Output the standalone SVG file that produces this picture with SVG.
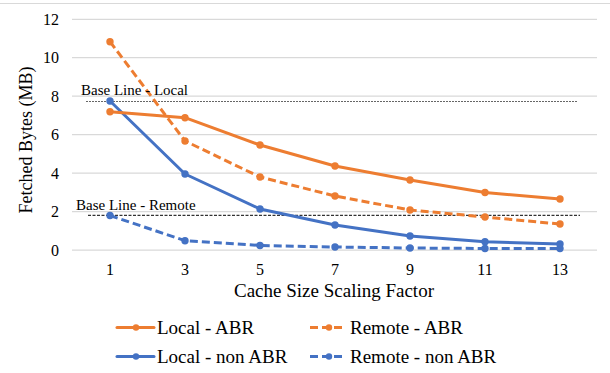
<svg xmlns="http://www.w3.org/2000/svg" width="610" height="373" viewBox="0 0 610 373">
<style>
text{font-family:"Liberation Serif","Times New Roman",serif;fill:#000}
.tick{font-size:16px}
.ytick{text-anchor:end}
.xtick{text-anchor:middle}
.title{font-size:19px}
.ytitle{font-size:18px}
.leg{font-size:19px}
.bl{font-size:15px}
.grid{stroke:#d9d9d9;stroke-width:1.2}
.s{fill:none;stroke-width:3;stroke-linejoin:round;stroke-linecap:round}
.or{stroke:#ed7d31}
.bu{stroke:#4472c4}
.dash{stroke-dasharray:8 4;stroke-linecap:butt}
.mo{fill:#ed7d31}
.mb{fill:#4472c4}
</style>
<rect width="610" height="373" fill="#fff"/>
<line x1="0" y1="3.5" x2="610" y2="3.5" stroke="#d9d9d9" stroke-width="1.2"/>
<g id="gridlines">
<line class="grid" x1="72" y1="19.3" x2="597" y2="19.3"/>
<line class="grid" x1="72" y1="57.7" x2="597" y2="57.7"/>
<line class="grid" x1="72" y1="96.2" x2="597" y2="96.2"/>
<line class="grid" x1="72" y1="134.7" x2="597" y2="134.7"/>
<line class="grid" x1="72" y1="173.2" x2="597" y2="173.2"/>
<line class="grid" x1="72" y1="211.7" x2="597" y2="211.7"/>
<line class="grid" x1="72" y1="250.2" x2="597" y2="250.2"/>
</g>
<g id="y-axis">
<text class="tick ytick" x="59" y="25">12</text>
<text class="tick ytick" x="59" y="63.3">10</text>
<text class="tick ytick" x="59" y="101.8">8</text>
<text class="tick ytick" x="59" y="140.3">6</text>
<text class="tick ytick" x="59" y="178.8">4</text>
<text class="tick ytick" x="59" y="217.3">2</text>
<text class="tick ytick" x="59" y="255.8">0</text>
<text class="ytitle" text-anchor="middle" transform="translate(32,140) rotate(-90)">Fetched Bytes (MB)</text>
</g>
<g id="x-axis">
<text class="tick xtick" x="110" y="275">1</text>
<text class="tick xtick" x="185" y="275">3</text>
<text class="tick xtick" x="260" y="275">5</text>
<text class="tick xtick" x="335" y="275">7</text>
<text class="tick xtick" x="410" y="275">9</text>
<text class="tick xtick" x="485" y="275">11</text>
<text class="tick xtick" x="560" y="275">13</text>
<text class="title" text-anchor="middle" x="334" y="297">Cache Size Scaling Factor</text>
</g>
<g id="baseline-lines">
<line x1="86" y1="101.5" x2="578" y2="101.5" stroke="#666" stroke-width="1.2" stroke-dasharray="2 1"/>
<line x1="88" y1="215.3" x2="580" y2="215.3" stroke="#000" stroke-width="1" stroke-dasharray="3 1.5"/>
</g>
<g id="connectors">
<polyline id="remote-non-abr" class="s bu dash" points="110,215.5 185,240.7 260,245.5 335,247 410,248 485,248.5 560,248.5"/>
<polyline id="local-non-abr" class="s bu" points="110,101 185,174 260,209 335,225 410,236 485,241.7 560,244"/>
<polyline id="remote-abr" class="s or dash" points="110,41.7 185,141 260,177 335,196 410,210 485,217 560,224"/>
<polyline id="local-abr" class="s or" points="110,111.7 185,117.7 260,145 335,166 410,180 485,192.5 560,199"/>
</g>
<g id="markers">
<g class="mb">
<circle cx="110" cy="215.5" r="3.7"/><circle cx="185" cy="240.7" r="3.7"/><circle cx="260" cy="245.5" r="3.7"/><circle cx="335" cy="247" r="3.7"/><circle cx="410" cy="248" r="3.7"/><circle cx="485" cy="248.5" r="3.7"/><circle cx="560" cy="248.5" r="3.7"/>
<circle cx="110" cy="101" r="3.7"/><circle cx="185" cy="174" r="3.7"/><circle cx="260" cy="209" r="3.7"/><circle cx="335" cy="225" r="3.7"/><circle cx="410" cy="236" r="3.7"/><circle cx="485" cy="241.7" r="3.7"/><circle cx="560" cy="244" r="3.7"/>
</g>
<g class="mo">
<circle cx="110" cy="41.7" r="3.7"/><circle cx="185" cy="141" r="3.7"/><circle cx="260" cy="177" r="3.7"/><circle cx="335" cy="196" r="3.7"/><circle cx="410" cy="210" r="3.7"/><circle cx="485" cy="217" r="3.7"/><circle cx="560" cy="224" r="3.7"/>
<circle cx="110" cy="111.7" r="3.7"/><circle cx="185" cy="117.7" r="3.7"/><circle cx="260" cy="145" r="3.7"/><circle cx="335" cy="166" r="3.7"/><circle cx="410" cy="180" r="3.7"/><circle cx="485" cy="192.5" r="3.7"/><circle cx="560" cy="199" r="3.7"/>
</g>
</g>
<g id="baseline-labels">
<text class="bl" x="81" y="94.5">Base Line - Local</text>
<text class="bl" x="76" y="209.5">Base Line - Remote</text>
</g>
<g id="legend">
<g id="leg-local-abr">
<line class="s or" x1="117" y1="327.5" x2="154" y2="327.5" stroke-linecap="butt"/>
<circle class="mo" cx="136" cy="327.5" r="3.2"/>
<text class="leg" x="157" y="334">Local - ABR</text>
</g>
<g id="leg-remote-abr">
<line class="s or dash" x1="310" y1="327.5" x2="344" y2="327.5" stroke-dasharray="7 4"/>
<circle class="mo" cx="329" cy="327.5" r="3.2"/>
<text class="leg" x="350" y="334">Remote - ABR</text>
</g>
<g id="leg-local-non-abr">
<line class="s bu" x1="117" y1="356.5" x2="154" y2="356.5" stroke-linecap="butt"/>
<circle class="mb" cx="136" cy="356.5" r="3.2"/>
<text class="leg" x="157" y="363">Local - non ABR</text>
</g>
<g id="leg-remote-non-abr">
<line class="s bu dash" x1="310" y1="356.5" x2="344" y2="356.5" stroke-dasharray="7 4"/>
<circle class="mb" cx="329" cy="356.5" r="3.2"/>
<text class="leg" x="350" y="363">Remote - non ABR</text>
</g>
</g>
</svg>
